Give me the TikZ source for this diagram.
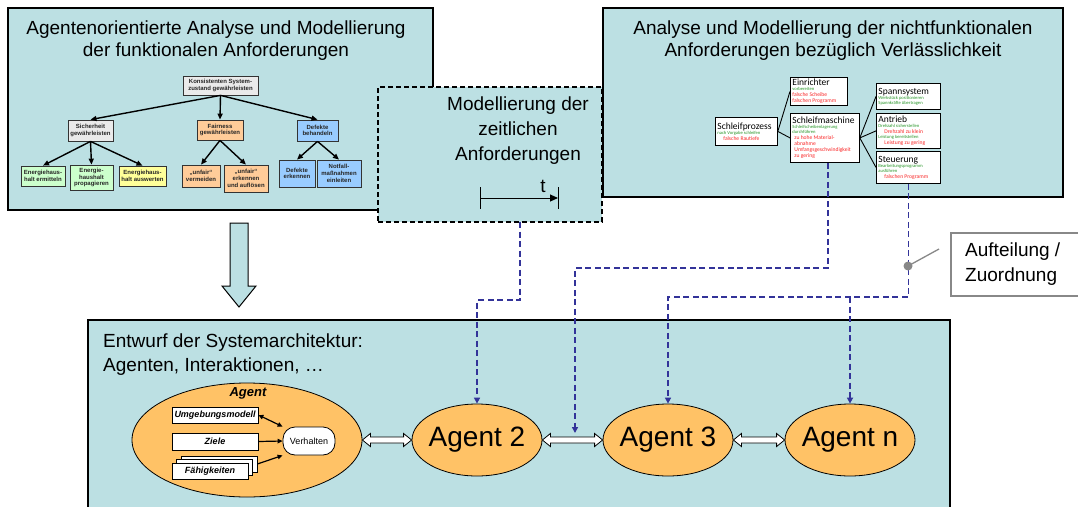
\documentclass[tikz,border=0pt]{standalone}
\usepackage{fontspec}
\setmainfont{Liberation Sans}
\newfontfamily\calfont{Carlito}
\usetikzlibrary{arrows.meta,calc,shapes.geometric}
\definecolor{panelc}{RGB}{188,224,227}
\definecolor{agentc}{RGB}{255,194,102}
\definecolor{dblue}{RGB}{51,51,153}
\definecolor{tgray}{RGB}{234,234,234}
\definecolor{tgreen}{RGB}{204,255,204}
\definecolor{tyellow}{RGB}{255,255,153}
\definecolor{torange}{RGB}{255,204,153}
\definecolor{tblue}{RGB}{153,204,255}
\definecolor{gtxt}{RGB}{40,150,40}
\definecolor{rtxt}{RGB}{250,40,40}
\definecolor{cgray}{RGB}{136,136,136}
\setlength\parindent{0pt}
\newcommand\fsz[2]{\fontsize{#1}{#2}\selectfont}
\newcommand\nsk{\spaceskip=0pt \xspaceskip=0pt }
\newcommand\hd[1]{{\fsz{9.5}{10}\nsk #1\par}}
\newcommand\gn[1]{{\color{gtxt}\fsz{4.6}{5}\nsk #1\par}}
\newcommand\rd[1]{{\color{rtxt}\fsz{5.6}{6}\nsk #1\par}}
\newcommand\rdi[1]{{\color{rtxt}\fsz{5.6}{6}\nsk\hspace*{6pt}#1\par}}
% hollow double-headed block arrow between two points on one horizontal line
\newcommand\dblarrow[2]{%
  \draw[line width=0.8pt, fill=white] (#1) -- ++(8,-6.5) -- ++(0,3.5)
    -- ($(#2)+(-8,-3)$) -- ++(0,-3.5) -- (#2) -- ++(-8,6.5) -- ++(0,-3.5)
    -- ($(#1)+(8,3)$) -- ++(0,3.5) -- cycle;}
\begin{document}
\begin{tikzpicture}[x=1pt,y=-1pt,
  panel/.style={draw=black, line width=1.2pt, fill=panelc, inner sep=0pt, outer sep=0pt, anchor=north west},
  bigtext/.style={font=\fsz{19}{22}, align=center, inner sep=0pt},
  tbox/.style={draw=black!80, line width=0.8pt, font=\bfseries\fsz{6}{6.7}, align=center, inner sep=0.5pt, text=black!85},
  tarr/.style={line width=1.4pt, -{Triangle[length=6pt,width=5pt]}},
  wbox/.style={draw=black, line width=0.8pt, fill=white, anchor=north west, align=left, inner xsep=2pt, inner ysep=1pt, font=\calfont},
  thinln/.style={line width=0.9pt},
  bd/.style={draw=dblue, line width=1.6pt, dash pattern=on 6pt off 3.5pt},
  bdarr/.style={bd, -{Triangle[length=6pt,width=6pt]}},
  agentell/.style={ellipse, draw=black, line width=0.8pt, fill=agentc, inner sep=0pt},
  agtext/.style={font=\fsz{28}{30}, inner sep=0pt},
  abox/.style={draw=black, line width=0.8pt, fill=white, inner sep=0pt, font=\bfseries\itshape\fsz{9}{10}},
  aarr/.style={line width=1.2pt, -{Triangle[length=5pt,width=4.5pt]}}
]
\path[use as bounding box] (0,0) rectangle (1078,506);
\clip (0,0) rectangle (1078,506);

% ---------- panels ----------
\node[panel, minimum width=425pt, minimum height=202pt] (lp) at (8,8) {};
\node[panel, minimum width=460pt, minimum height=189pt] (rp) at (603,8) {};
\node[panel, dash pattern=on 5pt off 3pt, minimum width=224pt, minimum height=135pt] (mid) at (378,87) {};

\node[bigtext] (lt) at (216,41) {Agentenorientierte Analyse und Modellierung\\der funktionalen Anforderungen};
\node[bigtext] (rt) at (833,41) {Analyse und Modellierung der nichtfunktionalen\\Anforderungen bezüglich Verlässlichkeit};
\node[bigtext, font=\fsz{19}{25}] (mt) at (518,131) {Modellierung der\\zeitlichen\\Anforderungen};

% timeline
\coordinate (tl0) at (480,198);
\coordinate (tl1) at (558,198);
\draw[line width=1pt] ($(tl0)+(0,-11)$) -- ($(tl0)+(0,11)$);
\draw[line width=1pt] ($(tl1)+(0,-11)$) -- ($(tl1)+(0,11)$);
\draw[line width=1pt, -{Triangle[length=8pt,width=7pt]}] (tl0) -- (tl1);
\node[font=\fsz{19}{22}, inner sep=0pt] (tlab) at (543,186) {t};

% ---------- goal tree ----------
\node[tbox, fill=tgray, minimum width=75pt, minimum height=19pt] (root) at (220.5,85.5) {Konsistenten System-\\zustand gewährleisten};
\node[tbox, fill=tgray, minimum width=45pt, minimum height=21pt] (sich) at (90.5,130.5) {Sicherheit\\gewährleisten};
\node[tbox, fill=torange, minimum width=46pt, minimum height=20pt] (fair) at (220,130) {Fairness\\gewährleisten};
\node[tbox, fill=tblue, minimum width=41pt, minimum height=21pt] (def) at (317.5,130.5) {Defekte\\behandeln};
\node[tbox, fill=tgreen, minimum width=44pt, minimum height=20pt] (e1) at (43,176) {Energiehaus-\\halt ermitteln};
\node[tbox, fill=tgreen, minimum width=43pt, minimum height=25pt] (e2) at (91.5,177.5) {Energie-\\haushalt\\propagieren};
\node[tbox, fill=tyellow, minimum width=47pt, minimum height=20pt] (e3) at (142.5,176) {Energiehaus-\\halt auswerten};
\node[tbox, fill=torange, minimum width=38pt, minimum height=22pt] (u1) at (201,176) {„unfair“\\vermeiden};
\node[tbox, fill=torange, minimum width=44pt, minimum height=27pt] (u2) at (246,178.5) {„unfair“\\erkennen\\und auflösen};
\node[tbox, fill=tblue, minimum width=36pt, minimum height=27pt] (d1) at (297,173.5) {Defekte\\erkennen};
\node[tbox, fill=tblue, minimum width=44pt, minimum height=27pt] (d2) at (339,173.5) {Notfall-\\maßnahmen\\einleiten};

\draw[tarr] (root.south) -- (sich.north);
\draw[tarr] (root.south) -- (fair.north);
\draw[tarr] (root.south) -- (def.north);
\draw[tarr] (sich.south) -- (e1.north);
\draw[tarr] (sich.south) -- (e2.north);
\draw[tarr] (sich.south) -- (e3.north);
\draw[tarr] (fair.south) -- (u1.north);
\draw[tarr] (fair.south) -- (u2.north);
\draw[tarr] (def.south) -- (d1.north);
\draw[tarr] (def.south) -- (d2.north);

% ---------- dependability model ----------
\node[wbox, text width=58pt, minimum height=28pt] (sp) at (715,117) {\hd{Schleifprozess}\gn{nach Vorgabe schleifen}\rdi{falsche Rautiefe}};
\node[wbox, text width=53pt, minimum height=28pt] (ein) at (790,77) {\hd{Einrichter}\gn{vorbereiten}\rd{falsche Scheibe}\rd{falschen Programm}};
\node[wbox, text width=65pt, minimum height=49pt] (schm) at (790,113) {\hd{Schleifmaschine}\gn{Schleifscheibenlagerung}\gn{durchführen}\rd{\hspace*{2pt}zu hohe Material-}\rd{\hspace*{2pt}abnahme}\rd{\hspace*{2pt}Umfangsgeschwindigkeit}\rd{\hspace*{2pt}zu gering}};
\node[wbox, text width=60pt, minimum height=26pt] (sps) at (876,83) {\hd{Spannsystem}\gn{Werkstück positionieren}\gn{Spannkräfte übertragen}};
\node[wbox, text width=60pt, minimum height=35pt] (ant) at (876,113) {\hd{Antrieb}\gn{Drehzahl sicherstellen}\rdi{Drehzahl zu klein}\gn{Leistung bereitstellen}\rdi{Leistung zu gering}};
\node[wbox, text width=60pt, minimum height=32pt] (steu) at (876,151) {\hd{Steuerung}\gn{Bearbeitungsprogramm}\gn{ausführen}\rdi{falschen Programm}};

\draw[thinln] (sp.east) -- (ein.west);
\draw[thinln] (sp.east) -- (schm.west);
\draw[thinln] (schm.east) -- (sps.west);
\draw[thinln] (schm.east) -- (ant.west);
\draw[thinln] (schm.east) -- (steu.west);

% ---------- big hollow arrow ----------
\draw[line width=1pt, fill=panelc] (230,223) -- (248,223) -- (248,286) -- (256,286) -- (239,307) -- (222,286) -- (230,286) -- cycle;

% ---------- architecture panel ----------
\node[panel, minimum width=862pt, minimum height=200pt] (bp) at (88,320) {};
\node[bigtext, align=left, anchor=west, font=\fsz{19}{24}] (bt) at (103,355) {Entwurf der Systemarchitektur:\\Agenten, Interaktionen, …};

\node[agentell, minimum width=230pt, minimum height=114pt] (ag1) at (247,440) {};
\node[font=\bfseries\itshape\fsz{13}{14}, inner sep=0pt] (aglab) at (248,393) {Agent};
\node[abox, minimum width=86pt, minimum height=16pt] (umg) at (215,415) {Umgebungsmodell};
\node[abox, minimum width=86pt, minimum height=17pt] (zie) at (215,441.5) {Ziele};
\node[abox, minimum width=76pt, minimum height=16pt] (fb2) at (219,464) {};
\node[abox, minimum width=76pt, minimum height=16pt] (fb1) at (214.5,467.5) {};
\node[abox, minimum width=76pt, minimum height=16pt] (fah) at (210,471) {Fähigkeiten};
\node[draw=black, line width=0.8pt, fill=white, rounded corners=12pt, minimum width=52pt, minimum height=28pt, inner sep=0pt, font=\fsz{9}{10}] (verh) at (309,441) {Verhalten};
\draw[line width=1.2pt, {Triangle[length=5pt,width=4.5pt]}-{Triangle[length=5pt,width=4.5pt]}] (umg.east) -- (verh.north west);
\draw[aarr] (zie.east) -- (verh.west);
\draw[aarr] (fb2.east) -- (verh.south west);

\node[agentell, minimum width=130pt, minimum height=72pt, label={[agtext]center:Agent 2}] (ag2) at (477,440) {};
\node[agentell, minimum width=130pt, minimum height=72pt, label={[agtext]center:Agent 3}] (ag3) at (668,440) {};
\node[agentell, minimum width=130pt, minimum height=72pt, label={[agtext]center:Agent n}] (agn) at (850,440) {};

\dblarrow{ag1.east}{ag2.west}
\dblarrow{ag2.east}{ag3.west}
\dblarrow{ag3.east}{agn.west}

% ---------- callout ----------
\node[draw=cgray, line width=1.5pt, fill=white, anchor=north west, minimum width=140pt, minimum height=63pt, inner sep=0pt] (co) at (950,232) {};
\node[bigtext, align=left, anchor=west, font=\fsz{19}{25}] (cot) at (965,264.5) {Aufteilung /\\Zuordnung};

% ---------- assignment connectors ----------
\coordinate (m1) at (520,300);
\coordinate (m2) at (828,268);
\coordinate (m3) at (908,297);
\coordinate (i23) at (575,433);
\coordinate (dot) at (908,266);
\coordinate (cl) at (939,249);
\draw[bdarr] (mid.south -| m1) -- (m1) -| (ag2.north);
\draw[bdarr] (schm.south -| m2) -- (m2) -| (i23);
\draw[bdarr] (steu.south) -- (steu.south |- m3) -| (ag3.north);
\draw[bdarr] (agn.north |- m3) -- (agn.north);
\draw[cgray, line width=1.3pt] (dot) -- (cl);
\fill[cgray] (dot) circle (4.5pt);
\end{tikzpicture}
\end{document}
